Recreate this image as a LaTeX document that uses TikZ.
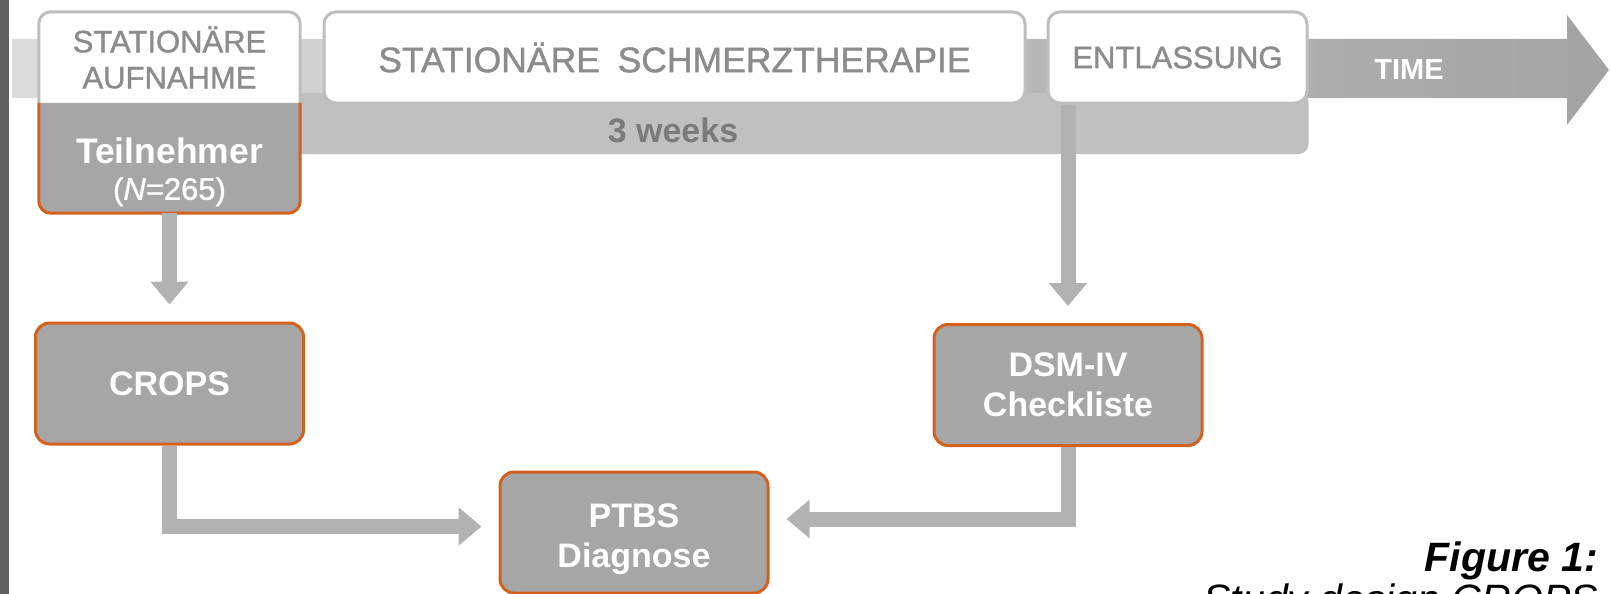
\documentclass[tikz,border=0pt]{standalone}
\usepackage{fontspec}
\setsansfont{Liberation Sans}
\newfontfamily\phasefont[FakeBold=1.2]{Liberation Sans}
\usepackage{tikz}
\usetikzlibrary{arrows.meta,backgrounds}
\definecolor{boxgrey}{RGB}{166,166,166}
\definecolor{bandgrey}{RGB}{192,192,192}
\definecolor{linegrey}{RGB}{190,190,190}
\definecolor{conngrey}{RGB}{178,178,178}
\definecolor{labelgrey}{RGB}{140,140,140}
\definecolor{weeksgrey}{RGB}{122,122,122}
\definecolor{edgeorange}{RGB}{212,96,30}
\definecolor{sidebar}{RGB}{96,96,96}
\tikzset{
  base/.style={font=\sffamily, align=center, inner sep=0pt},
  phase/.style={base, rectangle, rounded corners=12pt, draw=linegrey, fill=white, line width=3pt, minimum height=91pt, text=labelgrey, font=\phasefont\fontsize{31}{36}\selectfont},
  half/.style={base, rectangle, minimum width=261pt, font=\phasefont\fontsize{31}{36}\selectfont},
  instr/.style={base, rectangle, rounded corners=14pt, draw=edgeorange, fill=boxgrey, line width=3pt, minimum width=268pt, minimum height=121pt, text=white, font=\sffamily\bfseries\fontsize{34}{40}\selectfont},
  conn/.style={-{Triangle[length=23pt,width=37pt]}, line width=15pt, draw=conngrey, shorten >=17pt},
  lbl/.style={base, font=\sffamily\bfseries\fontsize{34}{40}\selectfont},
  capt/.style={base, font=\sffamily\itshape\fontsize{41}{44}\selectfont},
}
\begin{document}
\begin{tikzpicture}[x=1pt,y=-1pt]
  \useasboundingbox (0,0) rectangle (1611,594);
  \fill[sidebar] (0,0) rectangle (9,594);
  \node[half,minimum height=91pt,text=labelgrey] (aufn) at (169.5,57.5) {STATIONÄRE\\AUFNAHME};
  \node[half,minimum height=110pt,text=white,text height=90pt,text depth=6.5pt] (teil) at (169.5,158) {\sffamily\bfseries\fontsize{35.5}{40}\selectfont Teilnehmer\\{\mdseries\fontsize{31}{40}\selectfont(\textit{N}=265)}};
  \node[phase,minimum width=701pt,font=\phasefont\fontsize{35.5}{40}\selectfont] (ther) at (674.5,57.5) {STATIONÄRE\enspace SCHMERZTHERAPIE};
  \node[phase,minimum width=259pt] (entl) at (1177.5,57.5) {ENTLASSUNG};
  \node[lbl,text=weeksgrey] (weeks) at (673,130) {3 weeks};
  \node[lbl,text=white,font=\sffamily\bfseries\fontsize{29}{34}\selectfont] (time) at (1409,70) {TIME};
  \node[instr] (crops) at (169.5,383.5) {CROPS};
  \node[instr] (dsm) at (1068,385) {DSM-IV\\Checkliste};
  \node[instr,text height=76pt,text depth=7pt] (ptbs) at (634,532.5) {PTBS\\Diagnose};
  \node[capt,anchor=base east] (fig) at (1598,571) {\bfseries Figure 1:};
  \node[capt,anchor=base east] (study) at (1598,613) {Study design CROPS};
  \draw[conn] (teil.south) -- (crops.north);
  \draw[conn] (entl.south -| dsm) -- (dsm.north);
  \draw[conn] (crops.south) |- ([yshift=6pt]ptbs.west);
  \draw[conn] (dsm.south) |- ([yshift=13.5pt]ptbs.east);
  \begin{scope}[on background layer]
    \shade[left color=gray!28, right color=gray!72] (12,39) -- (1567,39) -- (1567,15) -- (1609,70) -- (1567,125) -- (1567,98) -- (12,98) -- cycle;
    \fill[bandgrey, rounded corners=10pt] ([yshift=10pt]teil.north) rectangle (entl.south east |- 0,154);
    \filldraw[fill=white, draw=linegrey, line width=3pt, rounded corners=12pt] (aufn.south west) |- (aufn.north east) -- (aufn.south east);
    \filldraw[fill=boxgrey, draw=edgeorange, line width=3pt, rounded corners=12pt] (teil.north west) |- (teil.south east) -- (teil.north east);
  \end{scope}
\end{tikzpicture}
\end{document}
